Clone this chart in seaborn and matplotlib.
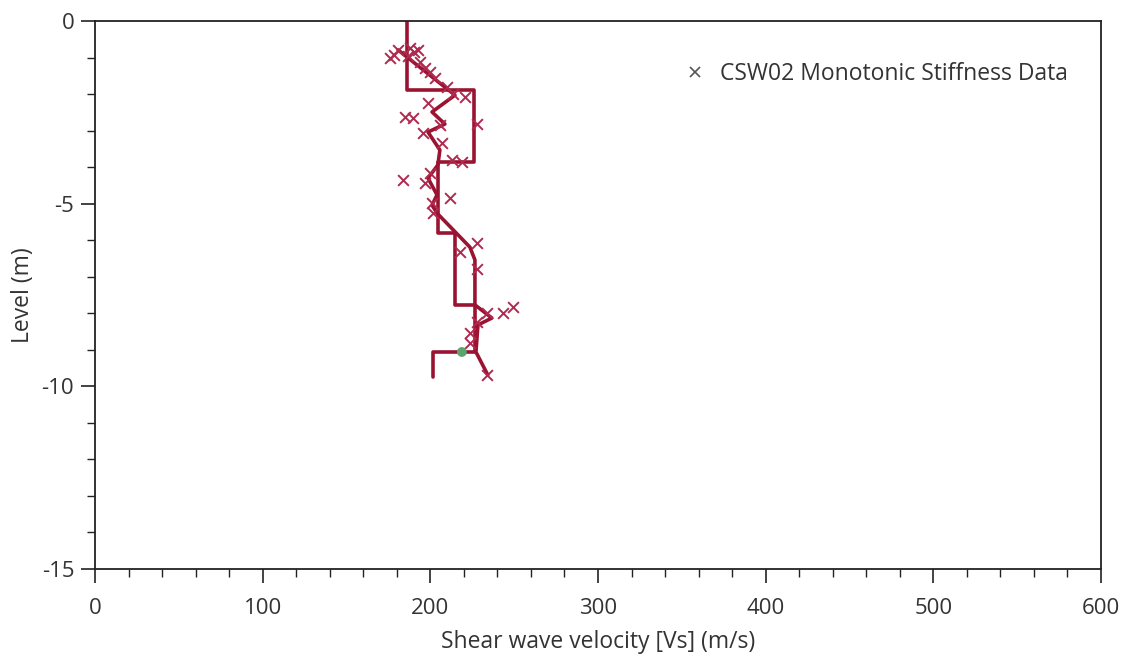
import numpy as np
import pandas as pd
import matplotlib
matplotlib.use("Agg")
import matplotlib.pyplot as plt
from matplotlib.lines import Line2D
from matplotlib.ticker import MultipleLocator
import seaborn as sns

# Measured shear wave velocities (m/s) against level (m)
data_vs = [175.9, 178.3, 180.7, 187.8, 190.2, 192.6, 186.6, 193.8, 196.8, 199.8,
           202.7, 209.9, 213.5, 220.6, 198.6, 184.9, 189.6, 195.6, 227.8, 205.7,
           206.9, 212.9, 218.8, 183.7, 199.8, 196.8, 211.7, 201.0, 201.6, 227.8,
           217.6, 227.8, 249.3, 243.3, 233.7, 227.8, 223.6, 223.6, 233.7]
data_level = [-1.01, -0.93, -0.79, -0.74, -0.85, -0.79, -0.96, -1.12, -1.29, -1.40,
              -1.56, -1.81, -2.00, -2.08, -2.24, -2.63, -2.66, -3.07, -2.82, -2.85,
              -3.34, -3.81, -3.86, -4.35, -4.16, -4.43, -4.85, -4.98, -5.26, -6.08,
              -6.32, -6.79, -7.83, -7.99, -7.99, -8.24, -8.54, -8.81, -9.69]

# Running trend through the measurements
trend_vs = [180.7, 214.7, 201.0, 208.7, 198.6, 205.7, 204.5, 198.6, 204.0, 201.0,
            204.0, 223.6, 226.6, 226.6, 236.7, 228.4, 227.2, 234.3]
trend_level = [-0.79, -2.03, -2.49, -2.82, -3.04, -3.53, -3.94, -4.30, -4.76, -5.04,
               -5.26, -6.19, -6.54, -7.77, -8.13, -8.32, -9.06, -9.69]

# Layered design profile
profile_vs = [186, 186, 226, 226, 204.5, 204.5, 214.7, 214.7, 226.6, 226.6, 201.5, 201.5]
profile_level = [0, -1.9, -1.9, -3.85, -3.85, -5.8, -5.8, -7.77, -7.77, -9.06, -9.06, -9.75]

# Highlighted point
point_vs = [218.8]
point_level = [-9.06]

sns.set_theme(style="white")
plt.rcParams["font.family"] = ["Open Sans", "DejaVu Sans"]
plt.rcParams["axes.unicode_minus"] = False

red = "#9a1432"
txt = "#333333"
fs = 16.5

fig = plt.figure(figsize=(11.30, 6.54), dpi=100)
ax = fig.add_axes([95 / 1130, 1 - 569 / 654, (1101 - 95) / 1130, (569 - 21) / 654])

sns.lineplot(x=profile_vs, y=profile_level, sort=False, estimator=None,
             color=red, lw=2.6, ax=ax)
sns.lineplot(x=trend_vs, y=trend_level, sort=False, estimator=None,
             color=red, lw=2.6, ax=ax)
sns.scatterplot(x=data_vs, y=data_level, marker="x", s=60, color="#b0294e",
                linewidth=1.4, ax=ax, zorder=3)
sns.scatterplot(x=point_vs, y=point_level, s=50, color="#5ca56e",
                edgecolor="none", ax=ax, zorder=4)

ax.set_xlim(0, 600)
ax.set_ylim(-15, 0)
ax.xaxis.set_major_locator(MultipleLocator(100))
ax.xaxis.set_minor_locator(MultipleLocator(20))
ax.yaxis.set_major_locator(MultipleLocator(5))
ax.yaxis.set_minor_locator(MultipleLocator(1))

for s in ax.spines.values():
    s.set_color("#222222")
    s.set_linewidth(1.3)

ax.tick_params(axis="both", which="major", direction="out", length=10, width=1.2,
               color="#222222", labelsize=16, labelcolor=txt)
ax.tick_params(axis="both", which="minor", direction="out", length=5.5, width=1.0,
               color="#222222")
ax.tick_params(axis="x", which="major", pad=11)
ax.tick_params(axis="y", which="major", pad=5)
ax.tick_params(axis="x", which="both", bottom=True)
ax.tick_params(axis="y", which="both", left=True)

ax.set_xlabel("Shear wave velocity [Vs] (m/s)", fontsize=fs, color=txt, labelpad=8)
ax.set_ylabel("Level (m)", fontsize=fs, color=txt, labelpad=5)

handle = Line2D([], [], ls="none", marker="x", color="#555555", markersize=7,
                markeredgewidth=1.2)
ax.legend([handle], ["CSW02 Monotonic Stiffness Data"], loc="upper right",
          frameon=False, fontsize=fs, bbox_to_anchor=(0.988, 0.962),
          handletextpad=0.5, handlelength=1.2, labelcolor=txt)

fig.savefig("out.png", dpi=100, facecolor="white")
